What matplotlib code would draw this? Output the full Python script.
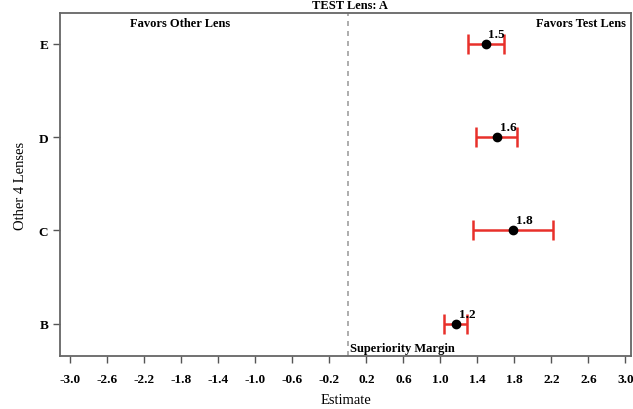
import matplotlib
matplotlib.use("Agg")
import matplotlib.pyplot as plt

lenses = ["B", "C", "D", "E"]
estimates = [1.17, 1.79, 1.61, 1.49]
lower = [1.04, 1.35, 1.39, 1.30]
upper = [1.29, 2.22, 1.83, 1.69]
labels = ["1.2", "1.8", "1.6", "1.5"]
margin = 0.0
xticks = [-3.0, -2.6, -2.2, -1.8, -1.4, -1.0, -0.6, -0.2, 0.2, 0.6, 1.0, 1.4, 1.8, 2.2, 2.6, 3.0]

plt.rcParams['font.family'] = ['Liberation Serif', 'DejaVu Serif']

fig = plt.figure(figsize=(6.33, 4.10), dpi=100)
ax = fig.add_axes([60/633, 1 - 357/410, (631-60)/633, (357-14)/410])

ypos = list(range(1, len(lenses) + 1))
xerr = [[e - l for e, l in zip(estimates, lower)], [u - e for e, u in zip(estimates, upper)]]
ax.errorbar(estimates, ypos, xerr=xerr, fmt='none', ecolor='#e8302a', elinewidth=1.8,
            capsize=7, capthick=1.8, zorder=2)
ax.plot(estimates, ypos, 'o', color='black', markersize=6, zorder=3)
for x, y, t in zip(estimates, ypos, labels):
    ax.annotate(t, (x, y), xytext=(2, 3), textcoords='offset points', fontsize=9.5,
                fontweight='bold', ha='left', va='bottom')

ax.axvline(margin, color='#a0a0a0', linestyle=(0, (3, 3)), linewidth=1.2, zorder=1)

ax.set_xlim(-3.11, 3.06)
ax.set_ylim(0.655, 4.33)
ax.set_xticks(xticks)
ax.set_xticklabels([f"{v:.1f}" for v in xticks], fontsize=9.5, fontweight='bold')
ax.set_yticks(ypos)
ax.set_yticklabels(lenses, fontsize=9.5, fontweight='bold')
ax.tick_params(axis='both', direction='out', length=5, width=1, color='#555555')
ax.tick_params(axis='x', pad=7)
for s in ax.spines.values():
    s.set_color('#666666')
    s.set_linewidth(1.3)

ax.text(-1.81, 4.22, "Favors Other Lens", fontsize=9, fontweight='bold', ha='center', va='center')
ax.text(2.52, 4.22, "Favors Test Lens", fontsize=9, fontweight='bold', ha='center', va='center')
ax.text(0.02, 0.74, "Superiority Margin", fontsize=9, fontweight='bold', ha='left', va='center')

ax.set_xlabel("Estimate", fontsize=10.5, labelpad=6)
ax.set_ylabel("Other 4 Lenses", fontsize=10.5, labelpad=8)

fig.text(350/633, 0.999, "TEST Lens: A", fontsize=9, fontweight='bold', ha='center', va='top')

fig.savefig("out.png", dpi=100)
